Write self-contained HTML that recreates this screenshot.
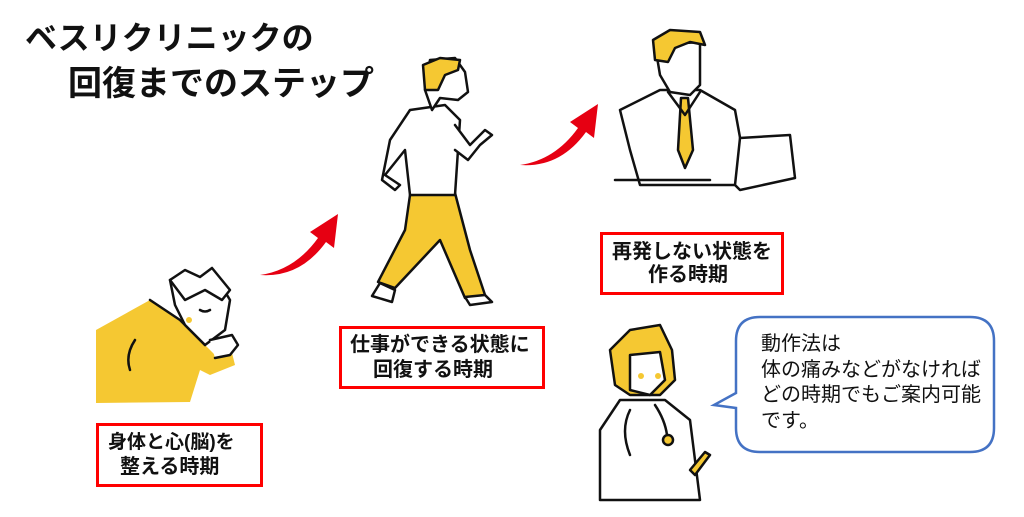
<!DOCTYPE html>
<html><head><meta charset="utf-8"><style>
body{margin:0;width:1024px;height:517px;background:#fff;position:relative;overflow:hidden;font-family:"Liberation Sans","Noto Sans CJK JP",sans-serif;}
.t{position:absolute;font-weight:bold;color:#111;white-space:nowrap;}
.box{position:absolute;border:3px solid #f00;box-sizing:border-box;background:#fff;font-weight:bold;font-size:20px;line-height:24px;color:#111;}
.box div{position:absolute;white-space:nowrap;}
svg{position:absolute;left:0;top:0;}
</style></head><body>
<svg width="1024" height="517" viewBox="0 0 1024 517">
<g stroke="#111" stroke-width="2.5" stroke-linejoin="round" stroke-linecap="round">
<path d="M96 330 L150 300 L180 320 L215 355 L230 345 L235 365 L210 375 L200 370 L190 402 L96 403 Z" fill="#f5c832" stroke="none"/>
<path d="M150 300 L180 320 L205 345" fill="none"/>
<path d="M170 280 L185 272 L200 278 L215 275 L230 300 L225 330 L205 345 L185 325 L175 305 Z" fill="#fff"/>
<path d="M170 280 L185 270 L200 277 L212 268 L230 290 L222 300 L205 290 L185 300 Z" fill="#fff"/>
<circle cx="189" cy="320" r="3" fill="#f5c832" stroke="none"/>
<path d="M200 310 q5 3 10 0" fill="none"/>
<path d="M210 340 L232 335 L238 345 L230 355 L215 358" fill="#fff"/>
<path d="M135 340 q-10 15 -5 30" fill="none"/>
<path d="M410 195 L455 193 L470 250 L485 295 L465 298 L440 240 L395 288 L378 282 L405 230 Z" fill="#f5c832"/>
<path d="M380 283 L395 290 L392 302 L372 296 Z M465 297 L485 295 L492 302 L470 305 Z" fill="#fff"/>
<path d="M410 110 L445 105 L460 120 L455 195 L410 195 L405 150 L385 175 L400 185 L395 190 L382 180 L390 140 Z" fill="#fff"/>
<path d="M455 125 L470 145 L485 130 L492 135 L480 145 L468 160 L455 150" fill="#fff"/>
<path d="M430 60 L455 58 L465 72 L468 92 L458 100 L440 98 L432 110 L425 90 Z" fill="#fff"/>
<path d="M425 90 L423 65 L440 58 L460 60 L458 70 L445 75 L438 90 Z" fill="#f5c832"/>
<path d="M620 110 L660 90 L700 90 L735 110 L745 165 L740 185 L640 185 L630 150 Z" fill="#fff"/>
<path d="M681 98 L688 98 L693 150 L685 168 L678 150 Z" fill="#f5c832"/>
<path d="M668 92 L685 115 L700 92" fill="none"/>
<path d="M655 45 L700 42 L700 85 L690 95 L670 92 L660 75 Z" fill="#fff"/>
<path d="M655 60 L653 40 L670 30 L700 32 L705 45 L690 42 L675 48 L668 62 Z" fill="#f5c832"/>
<path d="M615 180 L710 180 M740 138 L790 135 L795 178 L740 190 L735 185 Z" fill="#fff"/>
<path d="M610 350 L630 330 L660 325 L672 350 L675 380 L660 395 L630 395 L615 385 Z" fill="#f5c832"/>
<path d="M630 355 L660 352 L665 380 L650 395 L630 390 Z" fill="#fff"/>
<path d="M600 430 L620 400 L665 400 L690 420 L700 500 L600 500 Z" fill="#fff"/>
<circle cx="668" cy="440" r="5" fill="#f5c832"/>
<path d="M630 410 q-10 20 0 45 M655 405 q10 15 12 30" fill="none"/>
<path d="M690 470 L705 452 L710 455 L695 475 Z" fill="#f5c832"/>
</g>
<circle cx="641" cy="376" r="3" fill="#f5c832"/><circle cx="658" cy="376" r="3" fill="#f5c832"/>
<path d="M260 275 Q295 270 318 238 L310 232 L338 214 L334 248 L326 242 Q300 278 260 275 Z" fill="#e60012"/>
<path d="M520 165 Q555 160 578 128 L570 122 L598 104 L594 138 L586 132 Q560 168 520 165 Z" fill="#e60012"/>
<path d="M760 317 L970 317 Q994 317 994 341 L994 428 Q994 452 970 452 L760 452 Q736 452 736 428 L736 408 L714 405 L736 393 L736 341 Q736 317 760 317 Z" fill="#fff" stroke="#4472c4" stroke-width="2.5"/>
</svg>
<div class="t" style="left:25px;top:13px;font-size:32px;">ベスリクリニックの</div>
<div class="t" style="left:68px;top:56px;font-size:34px;">回復までのステップ</div>
<div class="box" style="left:96px;top:423px;width:167px;height:64px;"><div style="left:9px;top:5px;font-size:19px;">身体と心(脳)を</div><div style="left:21px;top:29px;">整える時期</div></div>
<div class="box" style="left:339px;top:326px;width:206px;height:63px;"><div style="left:8px;top:4px;">仕事ができる状態に</div><div style="left:31px;top:29px;">回復する時期</div></div>
<div class="box" style="left:600px;top:232px;width:184px;height:63px;"><div style="left:9px;top:5px;">再発しない状態を</div><div style="left:45px;top:28px;">作る時期</div></div>
<div class="t" style="left:761px;top:332px;font-size:20px;font-weight:normal;line-height:25.6px;">動作法は<br>体の痛みなどがなければ<br>どの時期でもご案内可能<br>です。</div>
</body></html>
